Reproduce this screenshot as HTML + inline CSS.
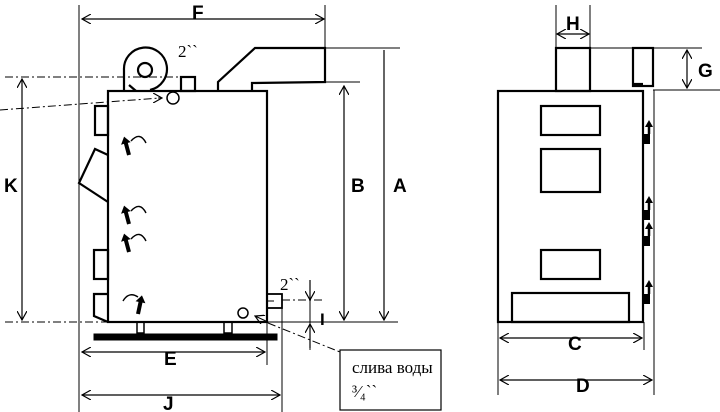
<!DOCTYPE html>
<html><head><meta charset="utf-8"><style>
body{margin:0;background:#fff;width:720px;height:412px;overflow:hidden}
svg{display:block}
.lbl{font-family:"Liberation Sans",sans-serif;font-weight:bold;font-size:19px}
.ser{font-family:"Liberation Serif",serif;font-size:17px}
</style></head><body>
<svg width="720" height="412" viewBox="0 0 720 412">
<defs>
<marker id="a" markerWidth="10" markerHeight="10" refX="9" refY="5" orient="auto-start-reverse" markerUnits="userSpaceOnUse"><path d="M0,0 L9,5 L0,10" fill="none" stroke="#000" stroke-width="1.2"/></marker>
<g id="ra"><rect x="0" y="14" width="7" height="10" fill="#000" stroke="none"/><line x1="6" y1="14" x2="6" y2="6" stroke="#000" stroke-width="2.5"/><path d="M2,7 L6,0 L10,7 Z" fill="#000" stroke="none"/></g>
<g id="hd"><path d="M-2,0 L2,0 L2,-12 L5,-12 L0,-19 L-5,-12 L-2,-12 Z" fill="#000" stroke="none"/></g>
</defs>
<g stroke="#000" fill="none">
<g stroke-width="1">
<line x1="79" y1="5" x2="79" y2="412"/>
<line x1="325" y1="5" x2="325" y2="48"/>
<line x1="325" y1="48" x2="400" y2="48"/>
<line x1="325" y1="82" x2="360" y2="82"/>
<line x1="267" y1="322" x2="398" y2="322"/>
<line x1="267" y1="322" x2="267" y2="365"/>
<line x1="282" y1="308" x2="282" y2="412"/>
<line x1="556" y1="5" x2="556" y2="48"/>
<line x1="590" y1="5" x2="590" y2="48"/>
<line x1="590" y1="48" x2="702" y2="48"/>
<line x1="653" y1="90" x2="720" y2="90"/>
<line x1="498" y1="322" x2="498" y2="395"/>
<line x1="644" y1="322" x2="644" y2="350"/>
<line x1="654" y1="90" x2="654" y2="395"/>
<line x1="310" y1="300" x2="310" y2="350"/>
</g>
<g stroke-width="1.2">
<line x1="82" y1="19" x2="324" y2="19" marker-start="url(#a)" marker-end="url(#a)"/>
<line x1="22" y1="79" x2="22" y2="320" marker-start="url(#a)" marker-end="url(#a)"/>
<line x1="344" y1="86" x2="344" y2="320" marker-start="url(#a)" marker-end="url(#a)"/>
<line x1="384" y1="50" x2="384" y2="320" marker-end="url(#a)"/>
<line x1="82" y1="352" x2="265" y2="352" marker-start="url(#a)" marker-end="url(#a)"/>
<line x1="82" y1="395" x2="280" y2="395" marker-start="url(#a)" marker-end="url(#a)"/>
<line x1="310" y1="280" x2="310" y2="300" marker-end="url(#a)"/>
<line x1="310" y1="348" x2="310" y2="324" marker-end="url(#a)"/>
<line x1="557" y1="34" x2="589" y2="34" marker-start="url(#a)" marker-end="url(#a)"/>
<line x1="687" y1="50" x2="687" y2="88" marker-start="url(#a)" marker-end="url(#a)"/>
<line x1="500" y1="338" x2="642" y2="338" marker-start="url(#a)" marker-end="url(#a)"/>
<line x1="500" y1="380" x2="652" y2="380" marker-start="url(#a)" marker-end="url(#a)"/>
</g>
<g stroke-width="1" stroke-dasharray="8,3,2,3">
<line x1="5" y1="77" x2="180" y2="77"/>
<line x1="0" y1="110" x2="160" y2="98"/>
<line x1="5" y1="322" x2="108" y2="322"/>
<line x1="282" y1="300" x2="322" y2="300"/>
<line x1="268" y1="323" x2="340" y2="352"/>
</g>
<line x1="158" y1="98" x2="162" y2="98" marker-end="url(#a)" stroke-width="1"/>
<line x1="268" y1="322" x2="255" y2="316" marker-end="url(#a)" stroke-width="1"/>
<g stroke-width="2.2">
<rect x="108" y="91" width="159" height="231"/>
<path d="M218,91 V82 L255,48 H325 V82 L252,83 V91"/>
<path d="M124,91 V70 A21.5,21.5 0 1 1 150,90"/>
<line x1="129" y1="85" x2="136" y2="91"/>
<circle cx="145" cy="70" r="7"/>
<rect x="181" y="77" width="14" height="14"/>
<circle cx="173" cy="98" r="6" stroke-width="1.5"/>
<rect x="95" y="106" width="13" height="29"/>
<path d="M108,155 L95,149 L79,183 L108,202"/>
<rect x="94" y="250" width="14" height="29"/>
<path d="M108,294 H94 V316 L108,322"/>
<rect x="137" y="322" width="7" height="11" stroke-width="1.5"/>
<rect x="224" y="322" width="8" height="11" stroke-width="1.5"/>
<rect x="267" y="294" width="15" height="14" stroke-width="1.8"/>
<line x1="267" y1="301" x2="274" y2="301" stroke-width="1"/>
<circle cx="243" cy="313" r="5" stroke-width="1.5"/>
</g>
<rect x="94" y="334" width="183" height="6" fill="#000"/>
<use href="#hd" transform="translate(129,155) rotate(-15)"/>
<use href="#hd" transform="translate(129,224) rotate(-15)"/>
<use href="#hd" transform="translate(129,252) rotate(-15)"/>
<use href="#hd" transform="translate(138,314) rotate(12)"/>
<g stroke-width="1.4">
<path d="M131,141 Q140,131 146,143"/>
<path d="M131,211 Q140,201 146,213"/>
<path d="M131,239 Q140,229 146,241"/>
<path d="M123,301 Q129,291 138,297"/>
</g>
<rect x="340" y="350" width="101" height="60" stroke-width="1.2"/>
<g stroke-width="2.2">
<rect x="498" y="91" width="145" height="231"/>
<rect x="556" y="48" width="34" height="43"/>
<rect x="633" y="48" width="20" height="38"/>
<line x1="633" y1="84" x2="643" y2="84"/>
<rect x="541" y="106" width="59" height="29"/>
<rect x="541" y="149" width="59" height="43"/>
<rect x="541" y="250" width="59" height="29"/>
<rect x="512" y="293" width="117" height="29"/>
</g>
<use href="#ra" x="643" y="120"/>
<use href="#ra" x="643" y="196"/>
<use href="#ra" x="643" y="222"/>
<use href="#ra" x="643" y="280"/>
</g>
<g class="lbl">
<text x="192" y="19">F</text>
<text x="4" y="192">K</text>
<text x="351" y="192">B</text>
<text x="393" y="192">A</text>
<text x="164" y="365">E</text>
<text x="163" y="410">J</text>
<text x="320" y="325" font-size="17">I</text>
<text x="566" y="30">H</text>
<text x="698" y="77">G</text>
<text x="568" y="350">C</text>
<text x="576" y="392">D</text>
</g>
<text class="ser" x="178" y="57">2``</text>
<text class="ser" x="280" y="290">2``</text>
<text class="ser" x="352" y="373" font-size="15">слива воды</text>
<text class="ser" x="352" y="397" font-size="15">³⁄₄``</text>
</svg>
</body></html>
